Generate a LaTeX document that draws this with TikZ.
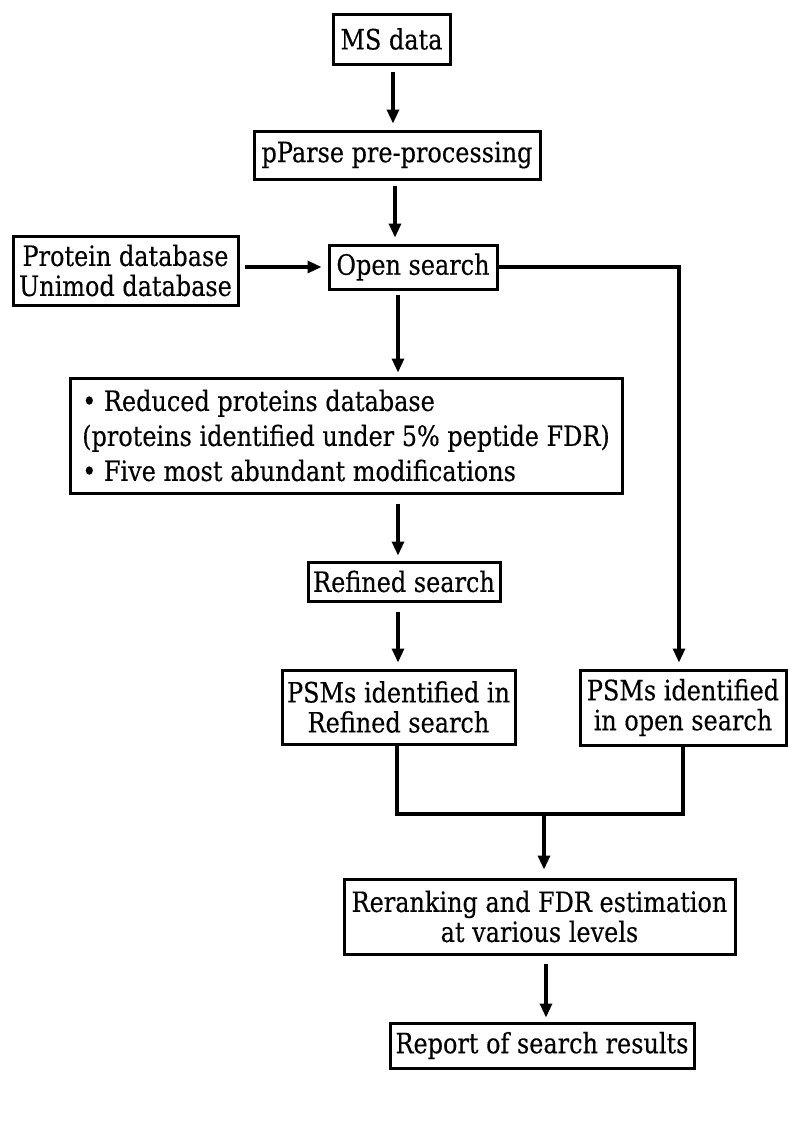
\documentclass[tikz,border=0pt]{standalone}
\usepackage{fontspec}
\setmainfont{DejaVu Serif}[FakeStretch=0.855,FakeBold=0.3]
\usetikzlibrary{arrows.meta}
\begin{document}
\begin{tikzpicture}[x=1pt,y=-1pt,
  box/.style={draw, line width=3pt, inner sep=0pt, align=center,
    font=\fontsize{28}{30}\selectfont},
  arr/.style={line width=3.2pt, -{Triangle[length=14pt,width=12pt]}},
  link/.style={line width=3.2pt}]
\useasboundingbox[fill=white] (0,0) rectangle (794,1125);
\node[box, minimum width=117pt, minimum height=50pt] (ms) at (391.5,39) {MS data};
\node[box, minimum width=286pt, minimum height=48pt] (pparse) at (397,155) {pParse pre-processing};
\node[box, minimum width=168pt, minimum height=44pt] (open) at (413,267) {Open search};
\node[box, minimum width=225pt, minimum height=69pt] (db) at (125.5,270.5) {Protein database\\Unimod database};
\node[box, minimum width=552pt, minimum height=115pt, align=left] (reduced) at (346,435.5)
  {• Reduced proteins database\\[5pt](proteins identified under 5\% peptide FDR)\\[5pt]• Five most abundant modifications};
\node[box, minimum width=192pt, minimum height=39pt] (refined) at (404,581.5) {Refined search};
\node[box, minimum width=233pt, minimum height=74pt] (psmr) at (398.5,707) {PSMs identified in\\Refined search};
\node[box, minimum width=206pt, minimum height=75pt] (psmo) at (683,707.5) {PSMs identified\\in open search};
\node[box, minimum width=391pt, minimum height=75pt] (rerank) at (539.5,916.5) {Reranking and FDR estimation\\at various levels};
\node[box, minimum width=304pt, minimum height=45pt] (report) at (542,1045.5) {Report of search results};
\coordinate (m) at (544,814);

\draw[arr, shorten <=6pt, shorten >=6pt] ([xshift=1.5pt]ms.south) -- ([xshift=1.5pt]ms.south |- pparse.north);
\draw[arr, shorten <=5pt, shorten >=6pt] ([xshift=-2pt]pparse.south) -- ([xshift=-2pt]pparse.south |- open.north);
\draw[arr, shorten <=5pt, shorten >=6pt] (db.east |- open.west) -- (open.west);
\draw[arr, shorten <=4pt, shorten >=4pt] ([xshift=-15pt]open.south) -- ([xshift=-15pt]open.south |- reduced.north);
\draw[arr, shorten <=9pt, shorten >=5pt] ([xshift=52pt]reduced.south) -- ([xshift=52pt]reduced.south |- refined.north);
\draw[arr, shorten <=9pt, shorten >=6pt] ([xshift=-6pt]refined.south) -- ([xshift=-6pt]refined.south |- psmr.north);
\draw[arr, shorten >=6pt] (open.east) -| ([xshift=-4pt]psmo.north);
\draw[link] ([xshift=-1.5pt]psmr.south) |- (m) -| (psmo.south);
\draw[arr, shorten >=8pt] (m) -- (m |- rerank.north);
\draw[arr, shorten <=8pt, shorten >=4pt] ([xshift=6.5pt]rerank.south) -- ([xshift=6.5pt]rerank.south |- report.north);
\end{tikzpicture}
\end{document}
